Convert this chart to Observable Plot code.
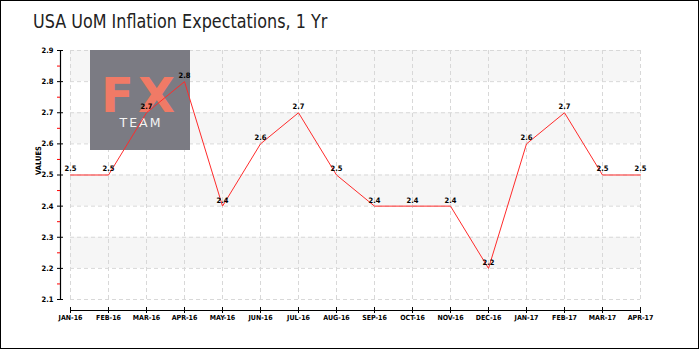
<!DOCTYPE html>
<html>
<head>
<meta charset="utf-8">
<script src="https://cdn.jsdelivr.net/npm/d3@7"></script>
<script src="https://cdn.jsdelivr.net/npm/@observablehq/plot@0.6"></script>
<style>
  html, body { margin: 0; padding: 0; background: #fff; }
  #box { position: relative; width: 697px; height: 347px; border: 1px solid #000; overflow: hidden; background: #fff; }
  #title { height: 40px; box-sizing: border-box; padding: 8px 0 0 32px; font-family: "DejaVu Sans", sans-serif; font-size: 20px; color: #222; white-space: nowrap; }
  #title span { display: inline-block; transform: scaleX(0.8); transform-origin: left center; }
</style>
</head>
<body>
<div id="box">
  <div id="title"><span>USA UoM Inflation Expectations, 1 Yr</span></div>
  <div id="chart"></div>
</div>
<script>
const months = ["Jan-16","Feb-16","Mar-16","Apr-16","May-16","Jun-16","Jul-16","Aug-16","Sep-16","Oct-16","Nov-16","Dec-16","Jan-17","Feb-17","Mar-17","Apr-17"];
const values = [2.5, 2.5, 2.7, 2.8, 2.4, 2.6, 2.7, 2.5, 2.4, 2.4, 2.4, 2.2, 2.6, 2.7, 2.5, 2.5];
const yTicks = [2.1, 2.2, 2.3, 2.4, 2.5, 2.6, 2.7, 2.8, 2.9];
const yMinorTicks = [2.15, 2.25, 2.35, 2.45, 2.55, 2.65, 2.75, 2.85];
const bandStarts = [2.2, 2.4, 2.6, 2.8];

const data = months.map((m, i) => ({month: m, value: values[i]}));
const bands = bandStarts.map(b => ({y1: b, y2: +(b + 0.1).toFixed(1)}));

const font = "'DejaVu Sans Condensed', 'DejaVu Sans', sans-serif";

function logo(index, scales, values, dims) {
  const g = d3.create("svg:g");
  g.append("rect").attr("x", 89).attr("y", 9).attr("width", 100).attr("height", 100).attr("fill", "#7b7b83");
  g.append("text").attr("x", 139).attr("y", 71).attr("text-anchor", "middle")
    .attr("font-family", "'DejaVu Sans', sans-serif").attr("font-weight", "bold").attr("font-size", 48)
    .attr("fill", "#f07a66").attr("letter-spacing", 4).text("FX");
  g.append("text").attr("x", 140).attr("y", 86).attr("text-anchor", "middle")
    .attr("font-family", "'DejaVu Sans', sans-serif").attr("font-size", 12.5)
    .attr("fill", "#f4f4f4").attr("letter-spacing", 2).text("TEAM");
  return g.node();
}

const plot = Plot.plot({
  width: 697,
  height: 307,
  marginTop: 9,
  marginBottom: 49,
  marginLeft: 69,
  marginRight: 58,
  style: {fontFamily: font, fontSize: "8px", color: "#000", background: "transparent", overflow: "visible"},
  x: {type: "point", domain: months, padding: 0, label: null},
  y: {domain: [2.1, 2.9], label: null},
  marks: [
    Plot.rect(bands, {y1: "y1", y2: "y2", fill: "#f6f6f6"}),
    Plot.gridX({stroke: "#d8d8d8", strokeOpacity: 1, strokeDasharray: "4,3"}),
    Plot.gridY({ticks: yTicks, stroke: "#d8d8d8", strokeOpacity: 1, strokeDasharray: "4,3"}),
    logo,
    Plot.ruleX([months[0]], {dx: -10, stroke: "#000", strokeWidth: 1.2}),
    Plot.ruleY([2.1], {dy: 11, stroke: "#000", strokeWidth: 1.2}),
    Plot.axisY({ticks: yTicks, tickSize: 6, dx: -7, tickPadding: 4, tickFormat: d3.format(".1f"), label: null, fontSize: 7.5, fontWeight: "bold"}),
    Plot.axisY({ticks: yMinorTicks, tickSize: 3, dx: -10, stroke: "red", tickFormat: () => "", label: null}),
    Plot.axisX({tickSize: 6, dy: 8, tickPadding: 2, tickFormat: d => d.toUpperCase(), label: null, fontSize: 7, fontWeight: "bold"}),
    Plot.text(["VALUES"], {frameAnchor: "left", rotate: -90, dx: -32, fontSize: 7.5, fontWeight: "bold"}),
    Plot.line(data, {x: "month", y: "value", stroke: "#ff2b2b", strokeWidth: 1}),
    Plot.text(data, {x: "month", y: "value", text: d => d.value.toFixed(1), dy: -6, fontSize: 7.5, fontWeight: "bold", fill: "#000"})
  ]
});
document.getElementById("chart").appendChild(plot);
</script>
</body>
</html>
